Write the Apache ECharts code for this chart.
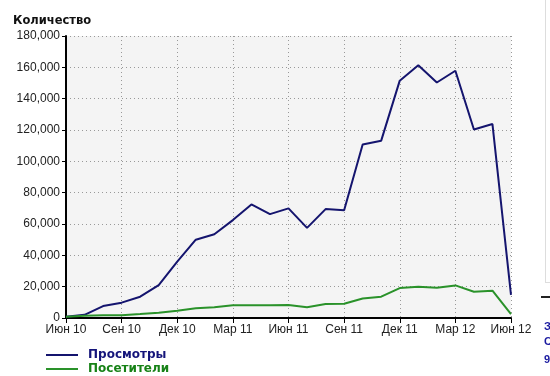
<!DOCTYPE html>
<html><head><meta charset="utf-8">
<script src="https://cdn.jsdelivr.net/npm/echarts@6/dist/echarts.min.js"></script>
<style>html,body{margin:0;padding:0;background:#fff}#c{width:550px;height:376px}</style>
</head><body><div id="c"></div>
<script>
var categories = ["Июн 10","Июл 10","Авг 10","Сен 10","Окт 10","Ноя 10","Дек 10","Янв 11","Фев 11","Мар 11","Апр 11","Май 11","Июн 11","Июл 11","Авг 11","Сен 11","Окт 11","Ноя 11","Дек 11","Янв 12","Фев 12","Мар 12","Апр 12","Май 12","Июн 12"];
var views = [800,2000,7600,9800,13600,21000,36000,50000,53500,62500,72500,66300,70000,57500,69500,68800,110800,113200,151500,161300,150300,157800,120300,123800,14700];
var visitors = [800,1500,1700,1700,2500,3400,4700,6200,6800,8100,8100,8100,8300,6900,8900,9100,12500,13600,19100,20000,19300,20800,16800,17400,2500];
var yTicks = {min:0, max:180000, step:20000};

var legendText = {fontFamily:'DejaVu Sans', fontWeight:'bold', fontSize:12, padding:[0,0,0,5]};
var chart = echarts.init(document.getElementById('c'), null, {renderer:'canvas'});
chart.setOption({
  animation:false,
  backgroundColor:'#fff',
  title:{text:'Количество', left:8, top:10, textStyle:{fontFamily:'DejaVu Sans', fontWeight:'bold', fontSize:11.5, color:'#111'}},
  grid:{left:66, right:39, top:36, bottom:58, show:true, backgroundColor:'#f4f4f4', borderWidth:0},
  legend:[
    {left:46, top:349, itemWidth:32, itemHeight:2, icon:'rect', padding:0,
      textStyle:Object.assign({color:'#14147a'}, legendText), data:['Просмотры']},
    {left:46, top:363, itemWidth:32, itemHeight:2, icon:'rect', padding:0,
      textStyle:Object.assign({color:'#178217'}, legendText), data:['Посетители']}
  ],
  xAxis:{type:'category', data:categories, boundaryGap:false,
    axisLine:{lineStyle:{color:'#000', width:2}},
    axisTick:{interval:2, length:5, lineStyle:{color:'#000', width:1}},
    axisLabel:{interval:2, color:'#222', fontFamily:'Liberation Sans', fontSize:12, margin:6},
    splitLine:{show:true, interval:2, lineStyle:{color:'#999', type:[1,3], width:1}}},
  yAxis:{type:'value', min:yTicks.min, max:yTicks.max, interval:yTicks.step,
    axisLine:{show:true, lineStyle:{color:'#000', width:2}},
    axisTick:{show:true, length:4, lineStyle:{color:'#000'}},
    axisLabel:{color:'#222', fontFamily:'Liberation Sans', fontSize:12, margin:6,
      formatter:function(v){return v.toLocaleString('en-US');}},
    splitLine:{show:true, lineStyle:{color:'#999', type:[1,3], width:1}}},
  series:[
    {name:'Просмотры', type:'line', data:views, symbol:'none', lineStyle:{color:'#14146e', width:2}, itemStyle:{color:'#14146e'}},
    {name:'Посетители', type:'line', data:visitors, symbol:'none', lineStyle:{color:'#2a922a', width:2}, itemStyle:{color:'#2a922a'}}
  ],
  graphic:[
    {type:'line', z:-1, shape:{x1:511.5, y1:36, x2:511.5, y2:318}, style:{stroke:'#999', lineWidth:1, lineDash:[1,3]}},
    {type:'line', shape:{x1:545.5, y1:0, x2:545.5, y2:282}, style:{stroke:'#ddd', lineWidth:1}},
    {type:'line', shape:{x1:545, y1:282.5, x2:550, y2:282.5}, style:{stroke:'#ddd', lineWidth:1}},
    {type:'line', shape:{x1:541, y1:297, x2:550, y2:297}, style:{stroke:'#222', lineWidth:2}},
    {type:'text', style:{text:'З', x:544, y:321, fill:'#1a1aa0', font:'bold 11px Liberation Sans'}},
    {type:'text', style:{text:'С', x:544, y:336, fill:'#1a1aa0', font:'bold 11px Liberation Sans'}},
    {type:'text', style:{text:'9', x:544, y:354, fill:'#1a1aa0', font:'bold 11px Liberation Sans'}}
  ]
});
</script></body></html>
